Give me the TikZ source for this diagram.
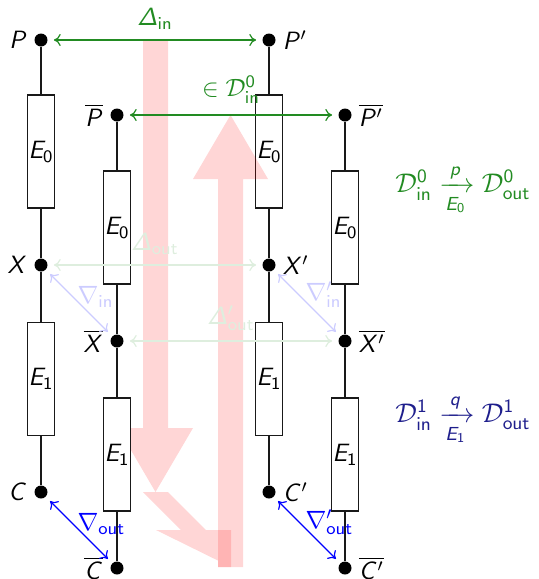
\documentclass[tikz,border=0pt]{standalone}
\usepackage{fix-cm}
\usepackage{amsmath}
\usetikzlibrary{arrows.meta}
\DeclareMathAlphabet{\mathsfit}{OT1}{cmss}{m}{sl}
\definecolor{mygreen}{RGB}{34,139,34}
\definecolor{myblue}{RGB}{0,0,255}
\definecolor{mynavy}{RGB}{30,30,140}
\begin{document}
\begin{tikzpicture}[x=0.5pt,y=-0.5pt,
  font=\fontsize{12.5}{15}\selectfont,
  >={To[length=3.4pt,width=6pt]},
  dot/.style={circle,fill=black,minimum size=6.5pt,inner sep=0pt},
  ebox/.style={draw=black!90,line width=0.8pt,minimum width=13.5pt,minimum height=56.5pt,inner sep=0pt},
  eboxw/.style={ebox,fill=white},
  wire/.style={draw=black!90,line width=0.8pt},
  redshape/.style={fill=red,fill opacity=0.16},
  garrow/.style={<->,draw=mygreen,line width=0.6pt,shorten <=3pt,shorten >=3pt},
  fgarrow/.style={<->,draw=mygreen!15,line width=0.6pt,shorten <=3pt,shorten >=3pt},
  barrow/.style={<->,draw=myblue,line width=0.6pt,shorten <=3pt,shorten >=3pt},
  fbarrow/.style={<->,draw=blue!20,line width=0.6pt,shorten <=3pt,shorten >=3pt},
  toplab/.style={midway,above=1.5pt},
  nablab/.style={midway,anchor=south west,inner sep=0pt,xshift=-1pt,yshift=-2.5pt},
  sidef/.style={font=\fontsize{13.5}{16}\selectfont}
]
\useasboundingbox (0,0) rectangle (538,579);

% column 1
\node[dot,label={left:$\mathsfit{P}$}] (P) at (41,40) {};
\node[ebox] (PE) at (41,151.5) {$\mathsfit{E}_{\mathsf{0}}$};
\node[dot,label={left:$\mathsfit{X}$}] (X) at (41,265) {};
\node[ebox] (XE) at (41,379) {$\mathsfit{E}_{\mathsf{1}}$};
\node[dot,label={left:$\mathsfit{C}$}] (C) at (41,492) {};
\draw[wire] (P) -- (PE) -- (X) -- (XE) -- (C);

% column 3
\node[dot,label={right:$\mathsfit{P}'$}] (Pp) at (269,40) {};
\node[ebox] (PpE) at (269,151.5) {$\mathsfit{E}_{\mathsf{0}}$};
\node[dot,label={right:$\mathsfit{X}'$}] (Xp) at (269,265) {};
\node[ebox] (XpE) at (269,379) {$\mathsfit{E}_{\mathsf{1}}$};
\node[dot,label={right:$\mathsfit{C}'$}] (Cp) at (269,492) {};
\draw[wire] (Pp) -- (PpE) -- (Xp) -- (XpE) -- (Cp);

% red arrows
\fill[redshape] (143,40) -- (168,40) -- (168,428) -- (193,428) -- (155.5,492)
  -- (118,428) -- (143,428) -- cycle;
\fill[redshape] (143,492) -- (168,492) -- (206,530) -- (181,530) -- cycle
  (156,530) -- (231,530) -- (231,567) -- cycle
  (218,530) -- (231,530) -- (231,567) -- (218,567) -- cycle;
\fill[redshape] (218,567) -- (243,567) -- (243,179) -- (268,179) -- (230.5,115)
  -- (193,179) -- (218,179) -- cycle;

% column 2
\node[dot,label={left:$\overline{\mathsfit{P}}$}] (Pb) at (117,115) {};
\node[eboxw] (PbE) at (117,227.5) {$\mathsfit{E}_{\mathsf{0}}$};
\node[dot,label={left:$\overline{\mathsfit{X}}$}] (Xb) at (117,341) {};
\node[eboxw] (XbE) at (117,454.5) {$\mathsfit{E}_{\mathsf{1}}$};
\node[dot,label={left:$\overline{\mathsfit{C}}$}] (Cb) at (117,568) {};
\draw[wire] (Pb) -- (PbE) -- (Xb) -- (XbE) -- (Cb);

% column 4
\node[dot,label={right:$\overline{\mathsfit{P}'}$}] (Pbp) at (345,115) {};
\node[eboxw] (PbpE) at (345,227.5) {$\mathsfit{E}_{\mathsf{0}}$};
\node[dot,label={right:$\overline{\mathsfit{X}'}$}] (Xbp) at (345,341) {};
\node[eboxw] (XbpE) at (345,454.5) {$\mathsfit{E}_{\mathsf{1}}$};
\node[dot,label={right:$\overline{\mathsfit{C}'}$}] (Cbp) at (345,568) {};
\draw[wire] (Pbp) -- (PbpE) -- (Xbp) -- (XbpE) -- (Cbp);

% horizontal arrows
\draw[garrow] (P) -- node[toplab,text=mygreen] {$\mathsfit{\Delta}_{\mathsf{in}}$} (Pp);
\draw[garrow] (Pb) -- node[toplab,above=0.5pt,text=mygreen] {$\in\mathcal{D}^{\mathsf{0}}_{\mathsf{in}}$} (Pbp);
\draw[fgarrow] (X) -- node[toplab,text=mygreen!15] {$\mathsfit{\Delta}_{\mathsf{out}}$} (Xp);
\draw[fgarrow] (Xb) -- node[toplab,text=mygreen!15] {$\mathsfit{\Delta}'_{\mathsf{out}}$} (Xbp);

% diagonal arrows
\draw[fbarrow] (X) -- node[nablab,text=blue!20] {$\nabla_{\mathsf{in}}$} (Xb);
\draw[fbarrow] (Xp) -- node[nablab,text=blue!20] {$\nabla'_{\mathsf{in}}$} (Xbp);
\draw[barrow] (C) -- node[nablab,text=myblue] {$\nabla_{\mathsf{out}}$} (Cb);
\draw[barrow] (Cp) -- node[nablab,text=myblue] {$\nabla'_{\mathsf{out}}$} (Cbp);

% side formulas
\node[sidef,text=mygreen] (D0) at (463,190) {$\mathcal{D}^{\mathsf{0}}_{\mathsf{in}}\xrightarrow[\mathsfit{E}_{\mathsf{0}}]{\mathsfit{p}}\mathcal{D}^{\mathsf{0}}_{\mathsf{out}}$};
\node[sidef,text=mynavy] (D1) at (463,420) {$\mathcal{D}^{\mathsf{1}}_{\mathsf{in}}\xrightarrow[\mathsfit{E}_{\mathsf{1}}]{\mathsfit{q}}\mathcal{D}^{\mathsf{1}}_{\mathsf{out}}$};
\end{tikzpicture}
\end{document}
